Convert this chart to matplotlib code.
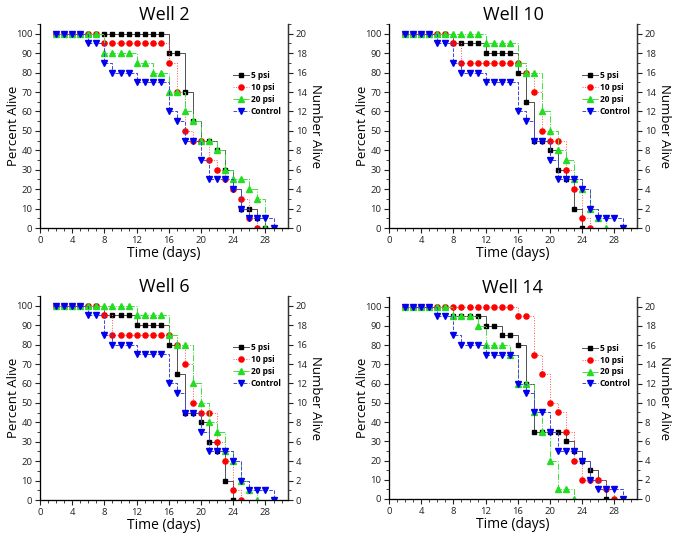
import matplotlib
matplotlib.use("Agg")
import matplotlib.pyplot as plt
from matplotlib.ticker import MultipleLocator

plt.rcParams['font.family'] = ['Open Sans', 'DejaVu Sans']

# Day axis: observations start at day 2
start_day = 2

# Well 2
w2_5psi = [100]*14 + [90, 90, 70, 55, 45, 45, 40, 30, 20, 10, 10, 5, 0]
w2_10psi = [100]*6 + [95]*8 + [85, 70, 50, 45, 45, 35, 30, 25, 20, 15, 5, 0]
w2_20psi = [100]*6 + [90]*4 + [85, 85, 80, 80, 70, 70, 60, 55, 45, 45, 40, 30, 25, 25, 20, 15, 0]
w2_ctrl = [100]*4 + [95, 95, 85, 80, 80, 80, 75, 75, 75, 75, 60, 55, 45, 45, 35, 25, 25, 25, 20, 10, 5, 5, 5, 0]

# Well 10
w10_5psi = [100]*6 + [95]*4 + [90]*4 + [80, 65, 45, 45, 40, 30, 25, 10, 0]
w10_10psi = [100]*6 + [95] + [85]*8 + [80, 70, 50, 45, 45, 30, 20, 5, 0]
w10_20psi = [100]*10 + [95]*4 + [85, 80, 80, 60, 50, 40, 35, 25, 20, 10, 5, 0]
w10_ctrl = [100]*4 + [95, 95, 85, 80, 80, 80, 75, 75, 75, 75, 60, 55, 45, 45, 35, 25, 25, 25, 20, 10, 5, 5, 5, 0]

# Well 6
w6_5psi = [100]*6 + [95]*4 + [90]*4 + [80, 65, 45, 45, 40, 30, 25, 10, 0]
w6_10psi = [100]*6 + [95] + [85]*8 + [80, 70, 50, 45, 45, 30, 20, 5, 0]
w6_20psi = [100]*10 + [95]*4 + [85, 80, 80, 60, 50, 40, 35, 25, 20, 10, 5, 0]
w6_ctrl = [100]*4 + [95, 95, 85, 80, 80, 80, 75, 75, 75, 75, 60, 55, 45, 45, 35, 25, 25, 25, 20, 10, 5, 5, 5, 0]

# Well 14
w14_5psi = [100]*6 + [95]*4 + [90, 90, 85, 85, 80, 60, 35, 35, 35, 35, 30, 25, 20, 15, 10, 0]
w14_10psi = [100]*14 + [95, 95, 75, 65, 50, 45, 35, 20, 10, 10, 10, 5, 0]
w14_20psi = [100]*6 + [95, 95, 95, 90, 80, 80, 80, 75, 60, 60, 45, 35, 20, 5, 5, 0]
w14_ctrl = [100]*4 + [95, 95, 85, 80, 80, 80, 75, 75, 75, 75, 60, 55, 45, 45, 35, 25, 25, 25, 20, 10, 5, 5, 5, 0]

series_labels = ['5 psi', '10 psi', '20 psi', 'Control']
panels = [
    ("Well 2", [w2_5psi, w2_10psi, w2_20psi, w2_ctrl]),
    ("Well 10", [w10_5psi, w10_10psi, w10_20psi, w10_ctrl]),
    ("Well 6", [w6_5psi, w6_10psi, w6_20psi, w6_ctrl]),
    ("Well 14", [w14_5psi, w14_10psi, w14_20psi, w14_ctrl]),
]

styles = [
    dict(color='#000000', ls='-', marker='s', lc='#505050', ms=3.3),
    dict(color='#ff0000', ls=':', marker='o', lc='#ff5555', ms=3.7),
    dict(color='#22dd22', ls='-.', marker='^', lc='#44dd44', ms=3.9),
    dict(color='#0000ee', ls='--', marker='v', lc='#4444dd', ms=3.9),
]

W, H = 678, 540
fig = plt.figure(figsize=(W/100, H/100), dpi=100)

# axes rectangles in pixels: (left, right, top, bottom)
rects = [(40, 288, 24, 228), (389, 637, 24, 228),
         (40, 288, 296, 500), (389, 637, 297, 499)]

for (title, data), (l, r, t, b) in zip(panels, rects):
    ax = fig.add_axes([l/W, 1-b/H, (r-l)/W, (b-t)/H])
    handles = []
    for vals, st, lab in zip(data, styles, series_labels):
        days = list(range(start_day, start_day + len(vals)))
        ax.plot(days, vals, drawstyle='steps-post', color=st['lc'], ls=st['ls'], lw=0.7)
        ax.plot(days, vals, ls='none', marker=st['marker'], color=st['color'], ms=st['ms'], mec=st['color'])
        h, = ax.plot([], [], color=st['lc'], ls=st['ls'], lw=0.7, marker=st['marker'],
                     mfc=st['color'], mec=st['color'], ms=st['ms'])
        handles.append(h)
    ax.set_xlim(0, 30.8)
    ax.set_ylim(0, 105)
    ax.xaxis.set_major_locator(MultipleLocator(4))
    ax.xaxis.set_minor_locator(MultipleLocator(1))
    ax.yaxis.set_major_locator(MultipleLocator(10))
    ax.yaxis.set_minor_locator(MultipleLocator(5))
    ax.spines['top'].set_visible(False)
    for s in ['left', 'bottom', 'right']:
        ax.spines[s].set_color('#333333')
        ax.spines[s].set_linewidth(0.9)
    ax.tick_params(which='major', direction='out', length=3.5, width=0.8, labelsize=6.8, colors='#222222', pad=2)
    ax.tick_params(which='minor', direction='out', length=2, width=0.6, colors='#222222')
    ax.set_xlabel('Time (days)', fontsize=10)
    ax.xaxis.set_label_coords(0.5, -0.09)
    ax.set_ylabel('Percent Alive', fontsize=9.5)
    ax.yaxis.set_label_coords(-0.08, 0.5)
    ax.set_title(title, fontsize=13, pad=3)

    ax2 = ax.twinx()
    ax2.set_ylim(0, 21)
    ax2.yaxis.set_major_locator(MultipleLocator(2))
    ax2.yaxis.set_minor_locator(MultipleLocator(1))
    ax2.spines['top'].set_visible(False)
    ax2.spines['right'].set_color('#333333')
    ax2.spines['right'].set_linewidth(0.9)
    ax2.tick_params(which='major', direction='out', length=3.5, width=0.8, labelsize=6.8, colors='#222222', pad=2)
    ax2.tick_params(which='minor', direction='out', length=2, width=0.6, colors='#222222')
    ax2.set_ylabel('Number Alive', fontsize=9.5, rotation=270, va='center')
    ax2.yaxis.set_label_coords(1.11, 0.5)

    ax.legend(handles, series_labels, loc='upper left', bbox_to_anchor=(0.76, 0.79),
              frameon=False, prop={'size': 6, 'weight': 'bold'}, handlelength=2.0,
              handletextpad=0.2, labelspacing=0.35, borderpad=0)

fig.savefig('out.png', dpi=100)
